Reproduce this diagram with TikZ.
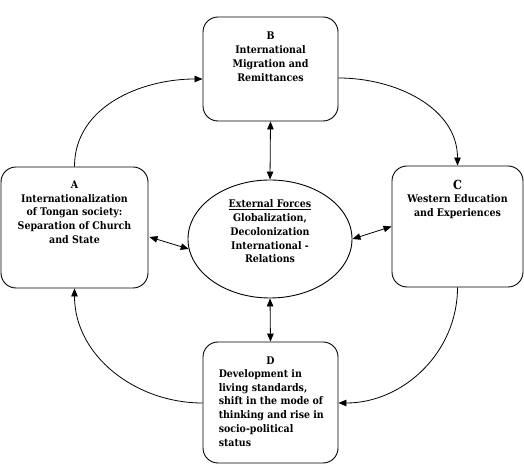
\documentclass[tikz,border=0pt]{standalone}
\usepackage{fontspec}
\setmainfont{DejaVu Serif Condensed}
\usetikzlibrary{arrows.meta,shapes.geometric,calc}
\begin{document}
\begin{tikzpicture}[x=1pt,y=1pt,
  box/.style={draw,line width=0.9pt,rounded corners=15pt,inner sep=0pt},
  txt/.style={font=\bfseries\fontsize{10.5}{13.8}\selectfont,align=center,inner sep=0pt,anchor=north},
  conn/.style={line width=0.8pt,-{Triangle[length=8pt,width=6.5pt]}},
  dconn/.style={line width=0.8pt,{Triangle[length=8pt,width=6.5pt]}-{Triangle[length=8pt,width=6.5pt]}}]
\useasboundingbox (0,0) rectangle (524,465);
\node[box,minimum width=135pt,minimum height=104pt] (B) at (270.5,396) {};
\node[box,minimum width=147pt,minimum height=121pt] (A) at (74.5,237.5) {};
\node[box,minimum width=131pt,minimum height=121pt] (C) at (457.5,238.5) {};
\node[box,minimum width=135pt,minimum height=121pt] (D) at (270.5,62.5) {};
\node[draw,ellipse,line width=0.9pt,minimum width=164pt,minimum height=118pt,inner sep=0pt] (E) at (270,226) {};
% texts
\node[txt] (Bt) at ($(B.north)+(0,-15.5)$) {B\\International\\Migration and\\Remittances};
\node[txt] (At) at ($(A.north)+(0,-14)$) {A\\Internationalization\\of Tongan society:\\Separation of Church\\and State};
\node[txt] (Ct) at ($(C.north)+(0,-14)$) {{\fontsize{12.5}{14.5}\selectfont C}\\Western Education\\and Experiences};
\node[txt] (Dl) at ($(D.north)+(0,-15)$) {D};
\node[txt,align=left,anchor=north west] (Dt) at ($(D.north west)+(16,-27.5)$) {Development in\\living standards,\\shift in the mode of\\thinking and rise in\\socio-political\\status};
\node[txt] (Et) at ($(E.north)+(0,-20)$) {\underline{External Forces}\\Globalization,\\Decolonization\\International -\\Relations};
% double arrows
\draw[dconn] (B.south) -- (E.north);
\draw[dconn] (D.north) -- (E.south);
\draw[dconn] ($(A.east)+(1,-9.5)$) -- (E.187);
\draw[dconn] (C.west) -- (E.east);
% cycle arrows
\draw[conn] (A.north) to[out=90,in=180] ($(B.west)+(0,-10)$);
\draw[conn] ($(B.east)+(0,-9)$) to[out=0,in=90] (C.north);
\draw[conn] (C.south) to[out=-90,in=0] ($(D.east)+(0,-0.5)$);
\draw[conn] ($(D.west)+(0,-0.5)$) to[out=180,in=-90] (A.south);
\end{tikzpicture}
\end{document}
